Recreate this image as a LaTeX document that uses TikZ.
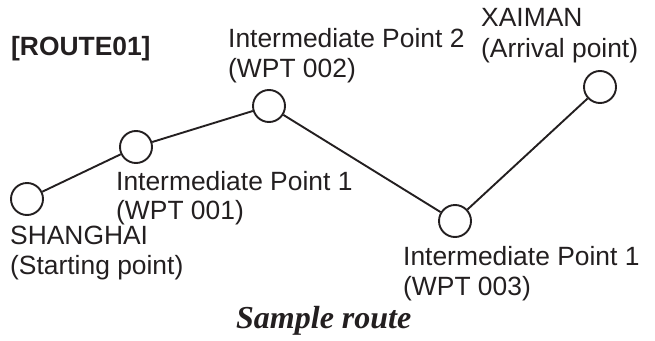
\documentclass[tikz,border=0pt]{standalone}
\usepackage{fontspec}
\setmainfont{Liberation Sans}
\newfontfamily\serifbi{Liberation Serif}
\definecolor{ink}{HTML}{231F20}
\begin{document}
\begin{tikzpicture}[x=1pt,y=-1pt,every node/.style={text=ink},
  wp/.style={circle,draw=ink,line width=1.9pt,minimum size=32pt,inner sep=0pt},
  leg/.style={draw=ink,line width=1.9pt},
  lbl/.style={anchor=base west,inner sep=0pt,font=\fontsize{26.4}{30}\selectfont},
  ttl/.style={anchor=base west,inner sep=0pt,font=\fontsize{26.4}{30}\selectfont\bfseries},
  captext/.style={anchor=base west,inner sep=0pt,font=\serifbi\fontsize{32}{36}\selectfont\bfseries\itshape}]
\useasboundingbox (0,0) rectangle (655,340);
\node[wp] (a) at (27,199) {};
\node[wp] (b) at (136,147) {};
\node[wp] (c) at (269,106) {};
\node[wp] (d) at (455,221) {};
\node[wp] (e) at (600,87) {};
\draw[leg] (a) -- (b);
\draw[leg] (b) -- (c);
\draw[leg] (c) -- (d);
\draw[leg] (d) -- (e);
\node[ttl] (route) at (11,55) {[ROUTE01]};
\node[lbl] (c1) at (228,47) {Intermediate Point 2};
\node[lbl] (c2) at (228,77) {(WPT 002)};
\node[lbl] (e1) at (481,27) {XAIMAN};
\node[lbl] (e2) at (481,57) {(Arrival point)};
\node[lbl] (b1) at (116,190) {Intermediate Point 1};
\node[lbl] (b2) at (116,219) {(WPT 001)};
\node[lbl] (a1) at (10,244) {SHANGHAI};
\node[lbl] (a2) at (10,274) {(Starting point)};
\node[lbl] (d1) at (403,265) {Intermediate Point 1};
\node[lbl] (d2) at (403,295) {(WPT 003)};
\node[captext] (title) at (236,328) {Sample route};
\end{tikzpicture}
\end{document}
